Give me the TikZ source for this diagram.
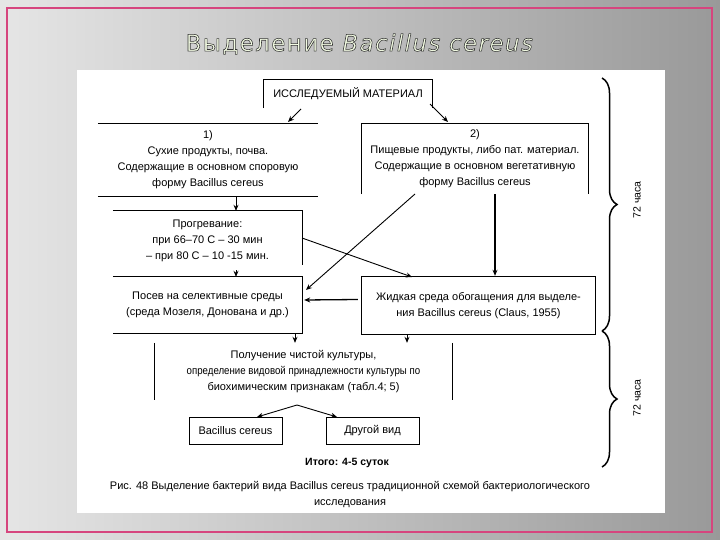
\documentclass[tikz,border=0pt]{standalone}
\usepackage{fontspec}
\setmainfont{Liberation Sans}
\newfontfamily\titlefont[LetterSpace=6]{DejaVu Sans}
\usetikzlibrary{decorations.pathreplacing,arrows.meta,calc}
\definecolor{frame}{HTML}{D6457E}
\definecolor{titlefill}{HTML}{F2FBE2}
\begin{document}
\begin{tikzpicture}[x=1pt,y=-1pt,
  txt/.style={inner sep=0pt,align=center,font=\fontsize{11}{16}\selectfont},
  edge/.style={line width=0.8pt,black},
  arr/.style={line width=0.9pt,-{Stealth[length=6pt,width=5pt]}},
  brc/.style={line width=1.5pt,decorate,decoration={brace,amplitude=15pt}},
  ttl/.style={font=\titlefont\fontsize{23}{26}\selectfont,inner sep=0pt}]
\useasboundingbox (0,0) rectangle (720,540);
\shade[left color=black!10,right color=black!40] (0,0) rectangle (720,540);
\draw[frame,line width=1.2pt] (7,8) rectangle (712,532);
% title (outlined letters)
\node[ttl,text=titlefill] (title) at (360,44) {\special{pdf:literal direct 2 Tr 0.55 w 0.2 0.2 0.2 RG}Выделение \textit{Bacillus cereus}\special{pdf:literal direct 0 Tr}};
% white panel
\fill[white] (77,70) rectangle (665,513);
% nodes
\node[txt,minimum width=168pt,minimum height=28pt] (mat) at (348,94) {ИССЛЕДУЕМЫЙ МАТЕРИАЛ};
\node[txt,minimum width=220pt,minimum height=72pt] (b1) at (208,160) {1)\\Сухие продукты, почва.\\Содержащие в основном споровую\\форму Bacillus cereus};
\node[txt,minimum width=226pt,minimum height=70pt] (b2) at (475,159) {2)\\Пищевые продукты, либо пат. материал.\\Содержащие в основном вегетативную\\форму Bacillus cereus};
\node[txt,minimum width=189pt,minimum height=59pt] (b3) at (207.5,240.5) {Прогревание:\\при 66–70 С – 30 мин\\– при 80 С – 10 -15 мин.};
\node[txt,minimum width=189pt,minimum height=56pt] (b4) at (207.5,305) {Посев на селективные среды\\(среда Мозеля, Донована и др.)};
\node[txt,minimum width=233pt,minimum height=57pt] (b5) at (478.5,305.5) {Жидкая среда обогащения для выделе-\\ния Bacillus cereus (Claus, 1955)};
\node[txt,minimum width=297pt,minimum height=57pt] (b6) at (303.5,371.5) {Получение чистой культуры,\\\scalebox{0.88}[1]{определение видовой принадлежности культуры по}\\биохимическим признакам (табл.4; 5)};
\node[txt,minimum width=93pt,minimum height=27pt,draw,line width=0.8pt] (b7) at (235.5,430.5) {Bacillus cereus};
\node[txt,minimum width=93pt,minimum height=27pt,draw,line width=0.8pt] (b8) at (372.5,430.5) {Другой вид};
\node[txt,font=\bfseries\fontsize{10.5}{12}\selectfont] (tot) at (347,463) {Итого: 4-5 суток};
\node[txt,font=\fontsize{11}{16}\selectfont] (cap) at (350,495) {Рис. 48 Выделение бактерий вида Bacillus cereus традиционной схемой бактериологического\\исследования};
% box borders
\draw[edge] (mat.south west) -- (mat.north west) -- (mat.north east) -- (mat.south east);
\draw[edge] (b1.north west) -- (b1.north east) (b1.south west) -- (b1.south east);
\draw[edge] (b2.south west) -- (b2.north west) -- (b2.north east) -- (b2.south east);
\draw[edge] (b3.north west) -- (b3.north east) -- ($(b3.south east)+(0,-5)$);
\draw[edge] (b4.north west) -- (b4.north east) -- (b4.south east) -- (b4.south west);
\draw[edge] (b5.north west) rectangle (b5.south east);
\draw[edge] (b6.north west) -- (b6.south west) (b6.north east) -- (b6.south east);
% connectors
\coordinate (m1) at (301,109);
\coordinate (m1e) at (288,122);
\coordinate (m2) at (430,104);
\coordinate (m2e) at (448,122);
\draw[arr] (m1) -- (m1e);
\draw[arr] (m2) -- (m2e);
\draw[arr] (b1.south -| 236,0) -- (b3.north -| 236,0);
\draw[arr] (b3.south -| 236,0) -- (b4.north -| 236,0);
\draw[arr,line width=1.3pt] (b2.south -| 495,0) -- ($(b5.north -| 495,0)+(0,-1)$);
\coordinate (d1) at (415,194);
\coordinate (d1e) at (306,290);
\draw[arr] (d1) -- (d1e);
\coordinate (d2) at (302,238);
\coordinate (d2e) at (412,277);
\draw[arr] (d2) -- (d2e);
\draw[arr,line width=1.3pt] ($(b5.west)+(-4,-6)$) -- ($(b4.east)+(2,-5)$);
\draw[arr] (b4.south -| 295,0) -- (b6.north -| 295,0);
\draw[arr] (b5.south -| 407,0) -- (b6.north -| 407,0);
\coordinate (s) at (297,405);
\draw[arr] (s) -- (257,417);
\draw[arr] (s) -- (337,417);
% braces
\coordinate (br1a) at (602,78);
\coordinate (br1b) at (602,331);
\coordinate (br2a) at (602,331);
\coordinate (br2b) at (602,467);
\draw[brc] (br1a) -- (br1b);
\draw[brc] (br2a) -- (br2b);
\node[txt,rotate=90,font=\fontsize{10.5}{12}\selectfont] (h1) at (637,200) {72 часа};
\node[txt,rotate=90,font=\fontsize{10.5}{12}\selectfont] (h2) at (637,398) {72 часа};
\end{tikzpicture}
\end{document}
